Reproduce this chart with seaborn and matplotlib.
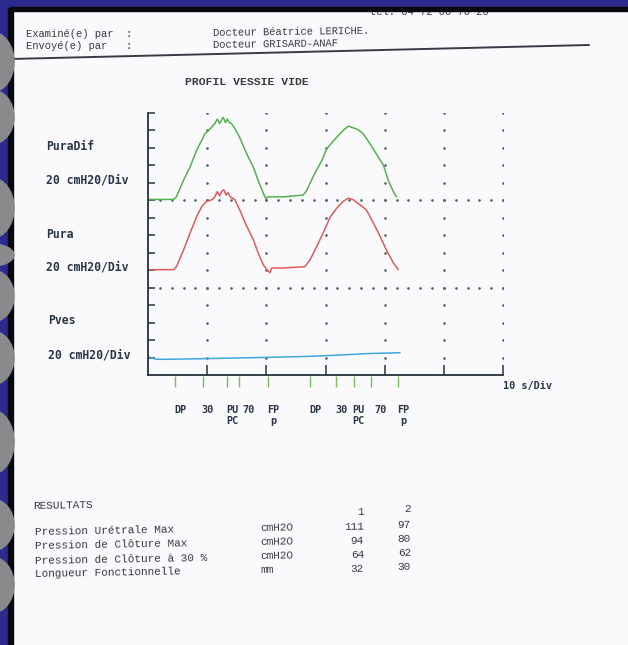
import numpy as np
import pandas as pd
import seaborn as sns
import matplotlib.pyplot as plt
from matplotlib.patches import Rectangle, Ellipse
from matplotlib.lines import Line2D

# ---- data (time in s, pressure in cmH2O) ----
puradif_t = [0, 4.3, 4.8, 6.0, 7.1, 8.2, 9.1, 9.6, 10.8, 11.3, 11.7, 12.1, 12.5, 12.7,
             13.1, 13.4, 13.7, 14.1, 14.7, 15.5, 16.7, 17.8, 18.6, 19.5, 19.9, 20.3,
             22.9, 26.2, 26.8, 27.9, 29.4, 30.2, 31.6, 32.4, 33.3, 33.9, 34.7, 35.5,
             36.4, 37.5, 38.6, 39.8, 40.6, 41.5, 42.0]
puradif_p = [1, 1, 4, 23, 38, 57, 69, 76, 84, 88, 93, 88, 93, 95,
             89, 93, 89, 88, 82, 72, 53, 38, 23, 8, 2, 4,
             4, 6, 11, 27, 46, 59, 70, 76, 82, 85, 83, 81,
             76, 65, 53, 40, 23, 9.5, 4]

pura_t = [0, 4.3, 4.8, 6.0, 7.1, 8.2, 9.1, 9.9, 10.8, 11.3, 11.7, 12.1, 12.5, 12.8,
          13.2, 13.5, 13.9, 14.7, 15.5, 16.7, 17.8, 18.6, 19.5, 20.1, 20.6, 20.9,
          22.9, 26.5, 27.4, 28.5, 29.6, 30.8, 31.9, 33.0, 33.9, 34.7, 35.8, 36.9,
          38.1, 39.2, 40.3, 41.5, 42.3]
pura_p = [20.6, 20.6, 24, 43, 62.5, 81, 93, 99, 100.6, 104, 110, 105, 111, 112,
          106, 109, 104, 100.6, 89, 70, 55, 40, 26, 20.6, 17, 22.5,
          22.5, 24, 32, 47, 62.5, 81, 91, 99, 102.5, 100.6, 95, 89,
          74, 59, 43, 28, 20.6]

pves_t = [0, 1.4, 3.0, 8.0, 15.0, 22.0, 28.0, 33.0, 37.0, 42.6]
pves_p = [21, 18, 18, 18.5, 19.5, 20.5, 21.5, 23, 24.5, 25.5]

# channel zero lines on the shared 20 cmH2O/div grid
offsets = {'PuraDif': 200, 'Pura': 100, 'Pves': 0}

event_t = [4.6, 9.3, 13.4, 15.4, 20.3, 27.4, 31.8, 34.8, 37.7, 42.3]
event_top = ['DP', '30', 'PU', '70', 'FP', 'DP', '30', 'PU', '70', 'FP']
event_bottom = ['', '', 'PC', '', 'p', '', '', 'PC', '', 'p']

result_rows = ['Pression Urétrale Max', 'Pression de Clôture Max',
               'Pression de Clôture à 30 %', 'Longueur Fonctionnelle']
result_units = ['cmH2O', 'cmH2O', 'cmH2O', 'mm']
result_1 = [111, 94, 64, 32]
result_2 = [97, 80, 62, 30]

channel_labels = ['PuraDif', 'Pura', 'Pves']
scale_label = '20 cmH20/Div'

# ---- build long table ----
frames = []
for name, t, p in [('PuraDif', puradif_t, puradif_p),
                   ('Pura', pura_t, pura_p),
                   ('Pves', pves_t, pves_p)]:
    d = pd.DataFrame({'t': t, 'p': p})
    d['channel'] = name
    d['y'] = d['p'] + offsets[name]
    frames.append(d)
df = pd.concat(frames, ignore_index=True)

sns.set_style('white')
plt.rcParams['font.family'] = ['Liberation Mono', 'DejaVu Sans Mono']

W, H = 628, 645
fig = plt.figure(figsize=(W / 100, H / 100), dpi=100)
fig.patch.set_facecolor('#fafafc')

def fx(x):
    return x / W

def fy(y):
    return 1 - y / H

ax = fig.add_axes([fx(148), fy(375), fx(355), 262 / H])
ax.set_facecolor('none')

palette = {'PuraDif': '#55b04f', 'Pura': '#e25a5a', 'Pves': '#3ea6dc'}
sns.lineplot(data=df, x='t', y='y', hue='channel', palette=palette,
             estimator=None, sort=False, linewidth=1.1, legend=False, ax=ax)

ax.set_xlim(0, 60)
ax.set_ylim(0, 300)
ax.set_xlabel('')
ax.set_ylabel('')

# dotted grid of the recorder
dot_c = '#5a6070'
for xv in range(10, 61, 10):
    ys = np.arange(20, 301, 20)
    ax.plot(np.full(len(ys), xv), ys, ls='none', marker='o', ms=0.9,
            color=dot_c, zorder=1)
for yv in (100, 200):
    xs = np.arange(2, 61, 2)
    ax.plot(xs, np.full(len(xs), yv), ls='none', marker='o', ms=0.9,
            color=dot_c, zorder=1)

sns.despine(ax=ax)
for s in ('left', 'bottom'):
    ax.spines[s].set_color('#26303c')
    ax.spines[s].set_linewidth(1.3)
ax.set_yticks(np.arange(20, 301, 20))
ax.set_xticks(np.arange(10, 61, 10))
ax.tick_params(axis='y', direction='in', length=5, width=1.1, color='#26303c',
               labelleft=False, left=True)
ax.tick_params(axis='x', direction='in', length=7, width=1.1, color='#26303c',
               labelbottom=False, bottom=True)

# event markers under the time axis
trans = ax.get_xaxis_transform()
ax.vlines(event_t, -0.045, -0.005, transform=trans, color='#7cbf5a',
          lw=1.0, clip_on=False)
lab_kw = dict(transform=trans, ha='left', va='center', fontsize=7.4,
              fontweight='bold', color='#2b3548', family=['DejaVu Sans Mono'])
for t, a, b in zip(event_t, event_top, event_bottom):
    nudge = 0.5 if a == '70' else -0.2
    ax.text(t + nudge, -0.134, a, **lab_kw)
    if b:
        ax.text(t - 0.2 + (0.6 if b == 'p' else 0), -0.176, b, **lab_kw)
ax.text(60, -0.042, '10 s/Div', **lab_kw)

# channel labels on the left
side_kw = dict(ha='left', va='center', fontsize=8.3, fontweight='bold',
               color='#2b3548', family=['DejaVu Sans Mono'])
for name, yl, ys, xl in zip(channel_labels, [147, 234, 321], [180, 267, 355],
                            [46, 46, 48]):
    fig.text(fx(xl), fy(yl), name, **side_kw)
    fig.text(fx(xl), fy(ys), scale_label, **side_kw)

# header
hd = dict(ha='left', va='center', fontsize=7.6, color='#3a3a42')
fig.text(fx(370), fy(12), 'tel: 04 72 00 70 20', **hd)
fig.text(fx(26), fy(34), 'Examiné(e) par  :', **hd)
fig.text(fx(26), fy(46), 'Envoyé(e) par   :', **hd)
fig.text(fx(213), fy(32), 'Docteur Béatrice LERICHE.', rotation=0.8, **hd)
fig.text(fx(213), fy(44), 'Docteur GRISARD-ANAF', rotation=0.8, **hd)
fig.add_artist(Line2D([fx(10), fx(589)], [fy(59), fy(45)], color='#3a3a46',
                      lw=1.4, transform=fig.transFigure))
fig.text(fx(185), fy(82), 'PROFIL VESSIE VIDE', ha='left', va='center',
         fontsize=8.2, fontweight='bold', color='#3a3a42')

# results table
rk = dict(va='center', fontsize=8, color='#3a3a42', rotation=1.0)
fig.text(fx(33), fy(505), 'RESULTATS', ha='left', **rk)
fig.text(fx(364), fy(512), '1', ha='right', **rk)
fig.text(fx(411), fy(509), '2', ha='right', **rk)
row_y = [531, 545, 559, 573]
for i, (lab, u, v1, v2) in enumerate(zip(result_rows, result_units, result_1, result_2)):
    yb = row_y[i]
    fig.text(fx(35), fy(yb), lab, ha='left', **rk)
    fig.text(fx(260), fy(yb - 3), u, ha='left', **rk)
    fig.text(fx(364), fy(yb - 4), str(v1), ha='right', **rk)
    fig.text(fx(411), fy(yb - 6), str(v2), ha='right', **rk)

# scan frame: blue/black borders and binder holes
blue = '#2c2a8e'
fig.add_artist(Rectangle((0, fy(7)), 1, 7 / H, transform=fig.transFigure,
                         color=blue, zorder=10))
fig.add_artist(Rectangle((fx(8), fy(11)), 1, 4 / H, transform=fig.transFigure,
                         color='#08080f', zorder=10))
fig.add_artist(Rectangle((0, 0), fx(9), 1, transform=fig.transFigure,
                         color=blue, zorder=10))
fig.add_artist(Rectangle((fx(8), 0), fx(5), fy(8), transform=fig.transFigure,
                         color='#08080f', zorder=10))
for cy, hh in [(62, 30), (117, 27), (208, 30), (255, 11), (296, 26),
               (358, 27), (442, 32), (525, 26), (585, 28)]:
    fig.add_artist(Ellipse((fx(-8), fy(cy)), 44 / W, 2 * hh / H,
                           transform=fig.transFigure, color='#8a8a8c', zorder=11))

fig.savefig('out.png', dpi=100)
plt.close(fig)
